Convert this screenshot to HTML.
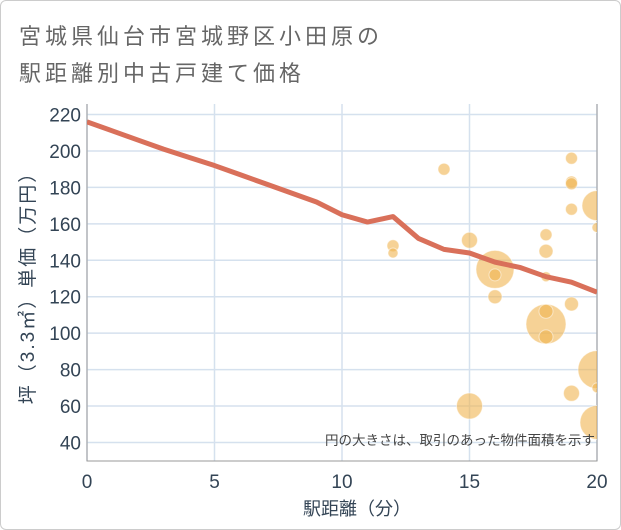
<!DOCTYPE html>
<html><head><meta charset="utf-8"><style>
body{margin:0;background:#fff;font-family:"Liberation Sans","Noto Sans CJK JP",sans-serif}
#wrap{position:relative;width:619px;height:528px;border:1px solid #ccc;border-radius:6px;overflow:hidden}
</style></head><body>
<div id="wrap">
<svg id="c" width="619" height="528"></svg>
</div>
<script>
const lineX=[0,1,2,3,4,5,6,7,8,9,10,11,12,13,14,15,16,17,18,19,20];
const lineY=[216,211,206,201,196.5,192,187,182,177,172,165,161,164,152,146,144,139,136,131,128,122.5];
const bubX=[14,12,12,15,16,16,16,15,18,18,18,18,18,18,19,19,19,19,19,19,20,20,20,20,20];
const bubY=[190,148,144,151,135,132,120,60,154,145,131,105,112,98,196,183,182,168,116,67,170,158,80,70,51];
const bubR=[6,6,5,8,19,6,7,13,6,7,5,20,7,7,6,6,6,6,7,8,15,5,19,5,17];
const xTicks=[0,5,10,15,20];
const yTicks=[40,60,80,100,120,140,160,180,200,220];
const L=86,R=596,T=103,B=460;
const sx=v=>L+(R-L)*v/20;
const sy=v=>441.5-(v-40)*1.822;
const svg=document.getElementById('c');const NS='http://www.w3.org/2000/svg';
function mk(t,a,p){const e=document.createElementNS(NS,t);for(const k in a)e.setAttribute(k,a[k]);(p||svg).appendChild(e);return e;}
function txt(x,y,s,a){const e=mk('text',Object.assign({x:x,y:y,fill:'#555','font-size':20},a));e.textContent=s;return e;}
let t=txt(18,43,'宮城県仙台市宮城野区小田原の',{'font-size':22,'letter-spacing':4,fill:'#666'});
t=txt(18,80,'駅距離別中古戸建て価格',{'font-size':22,'letter-spacing':4,fill:'#666'});
const clip=mk('clipPath',{id:'pc'});mk('rect',{x:L,y:T,width:R-L,height:B-T},clip);
yTicks.forEach(v=>{const g=mk('line',{x1:L,x2:R,y1:sy(v),y2:sy(v),stroke:'#d5e1ee','stroke-width':1.5});

const l=txt(L-6,sy(v)+7,String(v),{'text-anchor':'end',fill:'#345','font-size':19});
});
xTicks.forEach(v=>{const g=mk('line',{x1:sx(v),x2:sx(v),y1:T,y2:B,stroke:'#d5e1ee','stroke-width':1.5});

const l=txt(sx(v),B+27,String(v),{'text-anchor':'middle',fill:'#345','font-size':19});
});
let ax=mk('path',{d:`M${L} ${T}V${B}H${R}V${T}`,fill:'none',stroke:'#999','stroke-width':1});

const bg=mk('g',{'clip-path':'url(#pc)'});
bubX.forEach((x,i)=>{const c=mk('circle',{cx:sx(x),cy:sy(bubY[i]),r:bubR[i],fill:'rgba(240,180,80,0.6)',stroke:'#fff','stroke-opacity':0.5},bg);
});
const pl=mk('polyline',{points:lineX.map((x,i)=>sx(x)+','+sy(lineY[i])).join(' '),fill:'none',stroke:'#d9705a','stroke-width':5,'stroke-linejoin':'round','clip-path':'url(#pc)'});

t=txt(594,444,'円の大きさは、取引のあった物件面積を示す',{'text-anchor':'end','font-size':13.5,fill:'#444'});

t=txt(356,514,'駅距離（分）',{'text-anchor':'middle',fill:'#345','font-size':18});

t=txt(0,0,'坪（3.3㎡）単価（万円）',{'text-anchor':'middle',fill:'#345','font-size':19,'letter-spacing':2,transform:'translate(33,282) rotate(-90)'});

</script>
</body></html>
